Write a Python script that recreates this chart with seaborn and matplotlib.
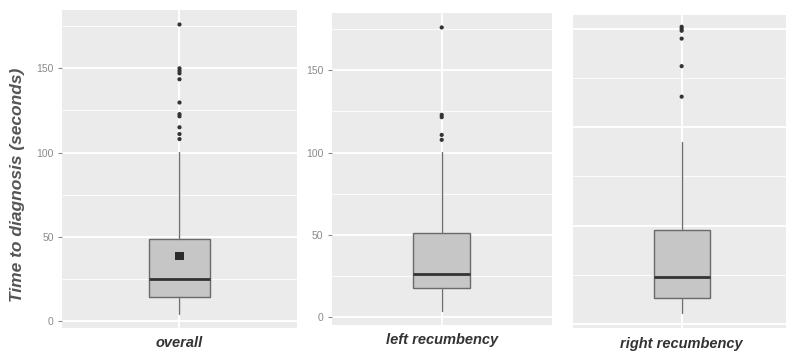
import matplotlib
matplotlib.use("Agg")
import matplotlib.pyplot as plt
import seaborn as sns
from matplotlib.ticker import MultipleLocator

# ---- data ----
groups = ["overall", "left recumbency", "right recumbency"]
q1 = [14.4, 17.4, 13.3]
medians = [25.0, 26.1, 24.0]
q3 = [49.0, 51.0, 47.7]
whisker_low = [4.5, 3.8, 5.5]
whisker_high = [100.4, 100.2, 92.5]
outliers_overall = [176, 150, 148.5, 147, 143.5, 129.7, 122.8, 121.5, 115, 111, 108]
outliers_left = [176, 122.9, 121.5, 110.7, 107.7]
outliers_right = [151, 150, 149, 145, 131, 115.5]
mean_overall = 38.6
yticks = [0, 50, 100, 150]
ylims = [(-4.1, 184.6), (-4.8, 184.6), (-2.2, 157.0)]

sns.set_theme(style="darkgrid", rc={
    "axes.facecolor": "#EBEBEB",
    "figure.facecolor": "white",
    "grid.color": "white",
})
plt.rcParams['font.family'] = ['Liberation Sans', 'DejaVu Sans']

W, H = 786, 351
fig = plt.figure(figsize=(W / 100, H / 100), dpi=100)

# panel boxes in pixels: left, top, right, bottom
panels_px = [(62, 10, 297, 328), (331.7, 13.3, 551.7, 325), (573.3, 15, 790, 328.3)]
outs = [outliers_overall, outliers_left, outliers_right]

for i, (l, t, r, b) in enumerate(panels_px):
    ax = fig.add_axes([l / W, (H - b) / H, (r - l) / W, (b - t) / H])
    ax.set_xlim(-0.6, 0.6)
    ax.set_ylim(*ylims[i])
    ax.set_yticks(yticks)
    ax.yaxis.set_minor_locator(MultipleLocator(25))
    ax.set_xticks([0])
    ax.set_xticklabels([groups[i]], fontsize=10.5, fontweight="bold",
                       style="italic", color="#333333")
    ax.grid(which="major", color="white", linewidth=1.3)
    ax.grid(which="minor", axis="y", color="white", linewidth=0.6)
    for s in ax.spines.values():
        s.set_visible(False)
    ax.tick_params(axis="x", length=0, pad=6)
    ax.tick_params(axis="y", which="major", length=3, width=0.8, color="#8a8a8a",
                   labelsize=7.5, labelcolor="#8a8a8a", pad=3, left=True)
    ax.tick_params(axis="y", which="minor", length=0)
    if i == 2:
        ax.tick_params(axis="y", labelleft=False, left=False)

    stats = [dict(med=medians[i], q1=q1[i], q3=q3[i], whislo=whisker_low[i],
                  whishi=whisker_high[i], fliers=[], label=groups[i])]
    ax.bxp(stats, positions=[0], widths=0.31, patch_artist=True, showcaps=False,
           showfliers=False, manage_ticks=False,
           boxprops=dict(facecolor="#C6C6C6", edgecolor="#6a6a6a", linewidth=1.0),
           whiskerprops=dict(color="#707070", linewidth=1.0),
           medianprops=dict(color="#333333", linewidth=2.0), zorder=3)
    sns.scatterplot(x=[0] * len(outs[i]), y=outs[i], ax=ax, color="#333333",
                    s=9, edgecolor="none", zorder=4)
    if i == 0:
        sns.scatterplot(x=[0], y=[mean_overall], ax=ax, color="#2a2a2a", marker="s",
                        s=40, edgecolor="none", zorder=5)
    ax.set_xlabel("")
    ax.set_ylabel("")

fig.text(18 / W, 1 - 185 / H, "Time to diagnosis (seconds)", rotation=90,
         ha="center", va="center", fontsize=12.5, fontweight="bold",
         style="italic", color="#555555")

fig.savefig("out.png", dpi=100)
